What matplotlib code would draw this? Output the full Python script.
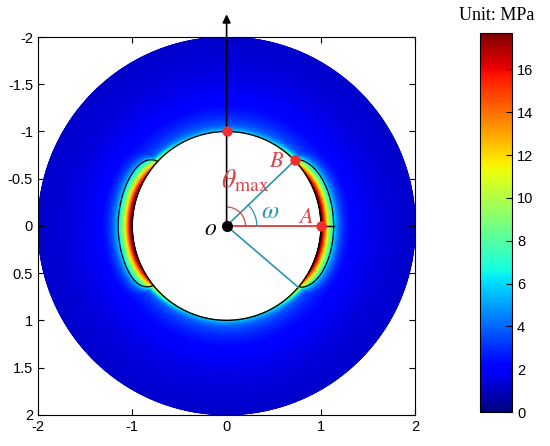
#!/usr/bin/env python3
"""
巷道围岩应力云图 + 塑性区边界
"""

import numpy as np
import matplotlib.pyplot as plt

plt.rcParams['font.family'] = ['Liberation Sans', 'DejaVu Sans']
plt.rcParams['mathtext.fontset'] = 'stix'

# ---- data ----
x_ticks = [-2, -1, 0, 1, 2]
y_ticks = [-2, -1.5, -1, -0.5, 0, 0.5, 1, 1.5, 2]
cbar_ticks = [0, 2, 4, 6, 8, 10, 12, 14, 16]
stress_max = 17.7          # top of colour bar (MPa)

r_inner = 1.0              # opening radius
r_outer = 2.0              # model radius

# plastic lobes: [right, left]
lobe_height = [0.135, 0.15]     # bulge beyond r = 1
lobe_end_up = [44.0, 43.0]      # deg, lobe end above horizontal
lobe_end_down = [40.0, 39.0]    # deg, lobe end below horizontal
lobe_power = [5.0, 8.0]         # shape exponent (bigger = squarer "ears")

# stress model parameters (MPa)
far_stress = 0.6
elastic_term = 2.4
rim_stress_side = 12.5     # extra concentration at the sides
rim_stress_roof = 1.5      # extra concentration at roof / floor
halo_stress = 1.8          # broad light-blue halo round the opening
halo_decay = 0.14
rim_decay_min = 0.035      # decay length where there is no lobe
rim_decay_lobe = 0.07      # extra decay length inside a lobe
rim_shape = 1.4            # >1 gives a more even colour band in the lobe
rim_angle = 46.0           # deg, angular width of the side concentration

point_top = (0.0, -1.0)
point_B = (0.73, -0.70)
point_A = (1.0, 0.0)
point_low = (0.76, 0.65)
arrow_tip = (0.0, -2.24)


def lobe_radius(phi_deg, side):
    """塑性区边界 (phi 从水平方向量起, 负值朝上)"""
    phi = np.asarray(phi_deg, dtype=float)
    end = np.where(phi < 0, lobe_end_up[side], lobe_end_down[side])
    u = np.clip(np.abs(phi) / end, 0, 1)
    return r_inner + lobe_height[side] * (1 - u ** lobe_power[side]) ** 0.7


def main():
    fig = plt.figure(figsize=(5.5, 4.46), dpi=100)
    ax = fig.add_axes([0.069, 0.070, 0.686, 0.847])
    cax = fig.add_axes([0.873, 0.076, 0.058, 0.850])

    # 应力场
    r = np.linspace(r_inner, r_outer, 260)
    th = np.linspace(0, 2 * np.pi, 901)
    R, T = np.meshgrid(r, th)
    X = R * np.cos(T)
    Y = R * np.sin(T)
    phi_r = np.degrees(np.arctan2(np.sin(T), np.cos(T)))
    phi_l = np.degrees(np.arctan2(np.sin(T), -np.cos(T)))
    rp = np.where(np.cos(T) >= 0, lobe_radius(phi_r, 0), lobe_radius(phi_l, 1))
    frac = (rp - r_inner) / lobe_height[0]
    ang_from_side = np.where(np.cos(T) >= 0, np.abs(phi_r), np.abs(phi_l))
    peak = rim_stress_roof + rim_stress_side * np.exp(-(ang_from_side / rim_angle) ** 4)
    width = rim_decay_min + rim_decay_lobe * np.clip(frac, 0, 1.2)
    S = (far_stress + elastic_term / R ** 2
         + halo_stress * np.exp(-(R - r_inner) / halo_decay)
         + peak * np.exp(-((R - r_inner) / width) ** rim_shape))

    mesh = ax.pcolormesh(X, Y, S, cmap='jet', vmin=0, vmax=stress_max,
                         shading='gouraud', rasterized=True)

    # 圆形巷道边界
    t = np.linspace(0, 2 * np.pi, 400)
    ax.plot(r_inner * np.cos(t), r_inner * np.sin(t), color='black', lw=1.0)

    # 塑性区边界 (左右两侧)
    phi = np.linspace(-lobe_end_up[0], lobe_end_down[0], 300)
    rr = lobe_radius(phi, 0)
    ax.plot(rr * np.cos(np.radians(phi)), rr * np.sin(np.radians(phi)),
            color='black', lw=0.9)
    phi = np.linspace(-lobe_end_up[1], lobe_end_down[1], 300)
    rr = lobe_radius(phi, 1)
    ax.plot(-rr * np.cos(np.radians(phi)), rr * np.sin(np.radians(phi)),
            color='black', lw=0.9)

    # 竖直箭头
    ax.annotate('', xy=arrow_tip, xytext=(0, 0), xycoords='data',
                arrowprops=dict(arrowstyle='-|>', color='black', lw=1.2,
                                mutation_scale=12, shrinkA=0, shrinkB=0),
                annotation_clip=False)

    # 线段
    teal = '#2a93b5'
    red = '#d9474a'
    ax.plot([0, point_B[0]], [0, point_B[1]], color=teal, lw=1.2)
    ax.plot([0, point_low[0]], [0, point_low[1]], color=teal, lw=1.2)
    ax.plot([0, point_A[0]], [0, point_A[1]], color=red, lw=1.4)
    ax.plot([point_A[0], r_inner + lobe_height[0]], [0, 0], color='black', lw=1.0)

    # 角度弧
    a = np.linspace(0, np.pi / 2, 60)
    ax.plot(0.2 * np.cos(a), -0.2 * np.sin(a), color=red, lw=0.9)
    b = np.linspace(0, np.radians(lobe_end_up[0]), 60)
    ax.plot(0.32 * np.cos(b), -0.32 * np.sin(b), color=teal, lw=0.9)

    # 关键点
    for px, py in [point_top, point_B, point_A]:
        ax.plot(px, py, 'o', color='#f03030', ms=6.5, zorder=5)
    ax.plot(0, 0, 'o', color='black', ms=7, zorder=5)

    # 标注
    ax.text(0.2, -0.47, r'$\theta_{\rm max}$', color=red, fontsize=20,
            ha='center', va='center')
    ax.text(0.53, -0.68, r'$B$', color=red, fontsize=16, ha='center', va='center')
    ax.text(0.46, -0.16, r'$\omega$', color=teal, fontsize=18, ha='center', va='center')
    ax.text(0.84, -0.09, r'$A$', color=red, fontsize=16, ha='center', va='center')
    ax.text(-0.17, 0.03, r'$o$', color='black', fontsize=17, ha='center', va='center')

    ax.set_xlim(-2, 2)
    ax.set_ylim(2, -2)
    ax.set_xticks(x_ticks)
    ax.set_xticklabels([f'{v:g}' for v in x_ticks])
    ax.set_yticks(y_ticks)
    ax.set_yticklabels([f'{v:g}' for v in y_ticks])
    ax.tick_params(direction='in', top=True, right=True, labelsize=10.5, length=4)
    for sp in ax.spines.values():
        sp.set_linewidth(0.8)

    # 色标
    cb = fig.colorbar(mesh, cax=cax, ticks=cbar_ticks)
    cb.ax.tick_params(labelsize=10.5, direction='in', length=4)
    cb.outline.set_linewidth(0.8)
    fig.text(0.903, 0.965, 'Unit: MPa', family='Liberation Serif', fontsize=13,
             ha='center', va='center')

    fig.savefig('out.png', dpi=100, facecolor='white')
    plt.close(fig)


if __name__ == "__main__":
    main()
